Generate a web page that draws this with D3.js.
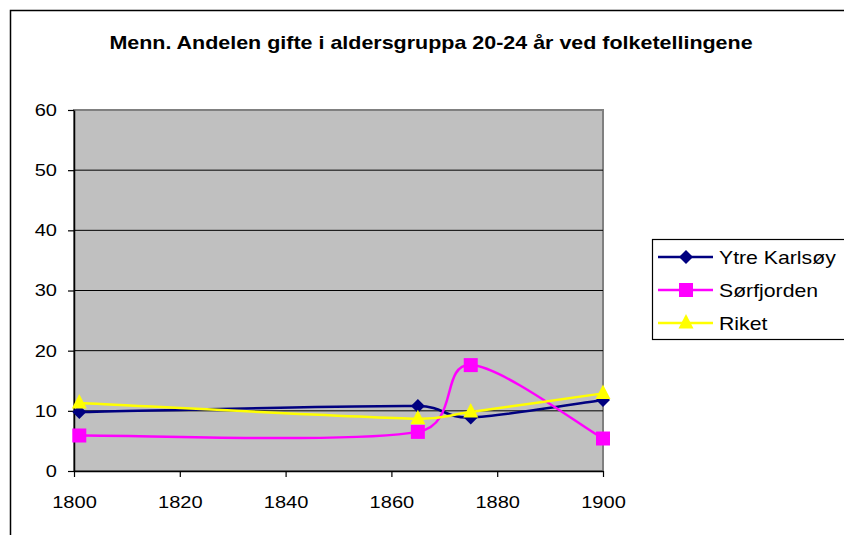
<!DOCTYPE html>
<html>
<head>
<meta charset="utf-8">
<script src="https://cdn.jsdelivr.net/npm/d3@7"></script>
<style>
  html, body { margin: 0; padding: 0; background: #fff; }
  svg { display: block; }
  text { font-family: "Liberation Sans", Arial, sans-serif; fill: #000; }
</style>
</head>
<body>
<svg id="chart" width="844" height="535"></svg>
<script>
const titleText = "Menn. Andelen gifte i aldersgruppa 20-24 år ved folketellingene";
const years = [1801, 1865, 1875, 1900];
const ytreKarlsoy = [9.8, 10.8, 8.9, 11.8];
const sorfjorden = [5.9, 6.5, 17.6, 5.4];
const riket = [11.3, 8.7, 9.8, 12.9];
const seriesNames = ["Ytre Karlsøy", "Sørfjorden", "Riket"];
const yTicks = [0, 10, 20, 30, 40, 50, 60];
const xTicks = [1800, 1820, 1840, 1860, 1880, 1900];

const SX = 1.18; // horizontal text stretch of the original
const svg = d3.select("#chart");

// outer frame
svg.append("rect").attr("x", 10.5).attr("y", 10.5).attr("width", 900).attr("height", 900)
  .attr("fill", "#fff").attr("stroke", "#000").attr("stroke-width", 1.5);

function stretchedText(parent, x, y, str, size, anchor, weight) {
  const g = parent.append("g").attr("transform", `translate(${x},${y}) scale(${SX},1)`);
  g.append("text").attr("x", 0).attr("y", 0).attr("text-anchor", anchor)
    .attr("font-size", size).attr("font-weight", weight || "normal").text(str);
  return g;
}

// title
stretchedText(svg, 431, 49, titleText, 18.2, "middle", "bold");

const x = d3.scaleLinear().domain([1800, 1900]).range([74, 603]);
const y = d3.scaleLinear().domain([0, 60]).range([471, 110]);

// plot area
svg.append("rect").attr("x", x(1800)).attr("y", y(60))
  .attr("width", x(1900) - x(1800)).attr("height", y(0) - y(60))
  .attr("fill", "#C0C0C0").attr("stroke", "#808080").attr("stroke-width", 2);

// gridlines
svg.append("g").selectAll("line").data(yTicks.filter(d => d > 0 && d < 60)).join("line")
  .attr("x1", x(1800)).attr("x2", x(1900))
  .attr("y1", d => y(d)).attr("y2", d => y(d))
  .attr("stroke", "#000").attr("stroke-width", 1);

// axes
const yAxis = svg.append("g").attr("transform", `translate(${x(1800)},0)`)
  .call(d3.axisLeft(y).tickValues(yTicks).tickSize(6).tickSizeOuter(0).tickPadding(11));
const xAxis = svg.append("g").attr("transform", `translate(0,${y(0)})`)
  .call(d3.axisBottom(x).tickValues(xTicks).tickSize(6).tickSizeOuter(0).tickFormat(d3.format("d")));
[yAxis, xAxis].forEach(a => {
  a.select(".domain").attr("stroke", "#000").attr("stroke-width", 1.5);
  a.selectAll(".tick line").attr("stroke", "#000").attr("stroke-width", 1.2);
  a.selectAll("text").attr("font-size", 17).attr("font-family", "Liberation Sans, Arial, sans-serif");
});
yAxis.selectAll(".tick text").attr("x", -17 / SX).attr("transform", `scale(${SX},1)`);
xAxis.selectAll(".tick text").attr("dy", null).attr("y", 37).attr("transform", `scale(${SX},1)`);

// Excel-style smoothed line: Bezier arms (P[i+1]-P[i-1])/6, clipped to half the segment length
function smoothPath(pts) {
  const p = d3.path();
  const n = pts.length;
  const dist = (a, b) => Math.hypot(b[0] - a[0], b[1] - a[1]);
  p.moveTo(pts[0][0], pts[0][1]);
  for (let i = 0; i < n - 1; i++) {
    const p0 = pts[Math.max(i - 1, 0)], p1 = pts[i], p2 = pts[i + 1], p3 = pts[Math.min(i + 2, n - 1)];
    const seg = dist(p1, p2);
    let a1 = [(p2[0] - p0[0]) / 6, (p2[1] - p0[1]) / 6];
    let a2 = [(p3[0] - p1[0]) / 6, (p3[1] - p1[1]) / 6];
    const l1 = Math.hypot(a1[0], a1[1]), l2 = Math.hypot(a2[0], a2[1]);
    if (l1 > seg / 2) { a1 = [a1[0] * seg / 2 / l1, a1[1] * seg / 2 / l1]; }
    if (l2 > seg / 2) { a2 = [a2[0] * seg / 2 / l2, a2[1] * seg / 2 / l2]; }
    p.bezierCurveTo(p1[0] + a1[0], p1[1] + a1[1], p2[0] - a2[0], p2[1] - a2[1], p2[0], p2[1]);
  }
  return p.toString();
}

// markers
function marker(kind) {
  const p = d3.path();
  if (kind === 0) { const r = 7; p.moveTo(0, -r); p.lineTo(r, 0); p.lineTo(0, r); p.lineTo(-r, 0); p.closePath(); }
  else if (kind === 1) { const h = 7; p.rect(-h, -h, 2 * h, 2 * h); }
  else { p.moveTo(0, -9); p.lineTo(7.5, 5.5); p.lineTo(-7.5, 5.5); p.closePath(); }
  return p.toString();
}

const colors = ["#000080", "#FF00FF", "#FFFF00"];
const allData = [ytreKarlsoy, sorfjorden, riket];

allData.forEach((vals, i) => {
  const pts = years.map((yr, j) => [x(yr), y(vals[j])]);
  svg.append("path").attr("d", smoothPath(pts))
    .attr("fill", "none").attr("stroke", colors[i]).attr("stroke-width", 2.5);
});
allData.forEach((vals, i) => {
  svg.append("g").selectAll("path").data(years.map((yr, j) => [yr, vals[j]])).join("path")
    .attr("transform", d => `translate(${x(d[0])},${y(d[1])})`)
    .attr("d", marker(i)).attr("fill", colors[i]);
});

// legend
const legend = svg.append("g");
legend.append("rect").attr("x", 652.5).attr("y", 239.5).attr("width", 250).attr("height", 100)
  .attr("fill", "#fff").attr("stroke", "#000").attr("stroke-width", 1.2);
const rowY = [257, 290, 323];
seriesNames.forEach((name, i) => {
  legend.append("line").attr("x1", 658).attr("x2", 713).attr("y1", rowY[i]).attr("y2", rowY[i])
    .attr("stroke", colors[i]).attr("stroke-width", 2.5);
  legend.append("path").attr("transform", `translate(686,${rowY[i]})`)
    .attr("d", marker(i)).attr("fill", colors[i]);
  stretchedText(legend, 719, rowY[i] + 6.5, name, 18, "start");
});
</script>
</body>
</html>
